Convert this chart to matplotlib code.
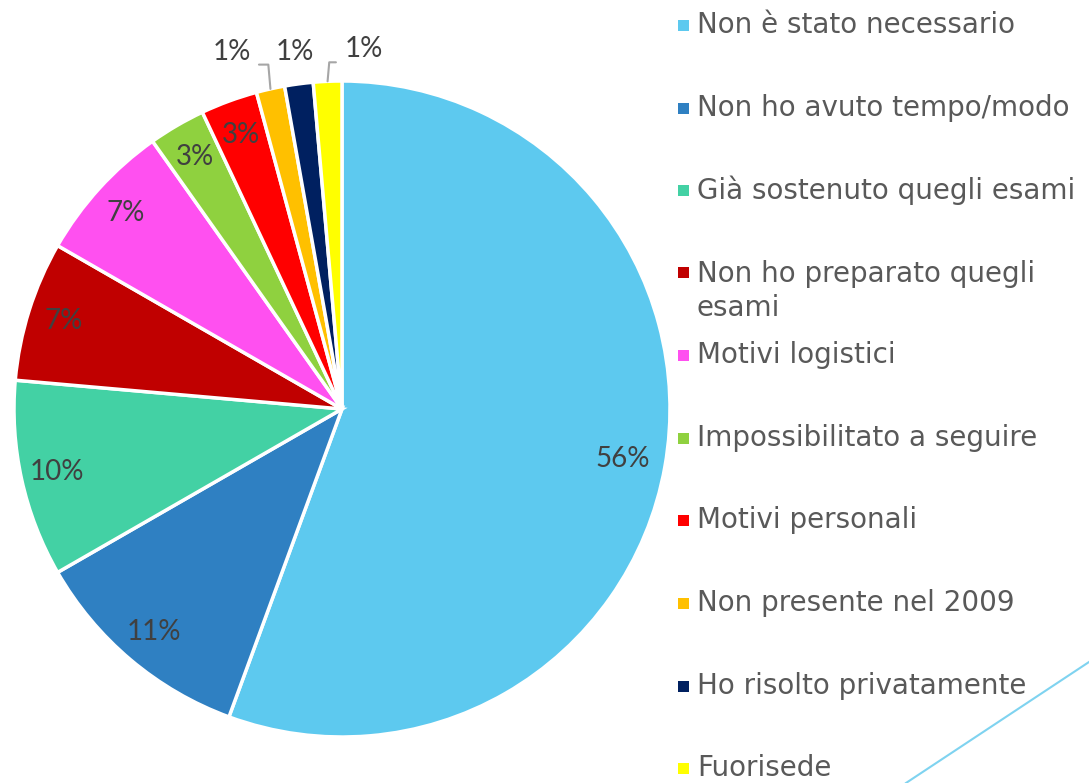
import matplotlib.pyplot as plt
import numpy as np

labels = [
    "Non è stato necessario",
    "Non ho avuto tempo/modo",
    "Già sostenuto quegli esami",
    "Non ho preparato quegli\nesami",
    "Motivi logistici",
    "Impossibilitato a seguire",
    "Motivi personali",
    "Non presente nel 2009",
    "Ho risolto privatamente",
    "Fuorisede",
]
values = [55.6, 11.1, 9.7, 6.9, 6.9, 2.8, 2.8, 1.4, 1.4, 1.4]
colors = ["#5dc9ef", "#2f80c2", "#43d1a4", "#c00000", "#ff50f0",
          "#8fd13f", "#ff0000", "#ffc000", "#002060", "#ffff00"]

W, H = 1089, 783
fig = plt.figure(figsize=(W / 100, H / 100), dpi=100)

# pie axes: centre (342, 409) px, radius ~328 px
R = 330
ax = fig.add_axes([(342 - R) / W, (H - 409 - R) / H, 2 * R / W, 2 * R / H])
ax.axis("off")

radius = 328 / R
wedges, _ = ax.pie(values, colors=colors, startangle=90, counterclock=False,
                   radius=radius,
                   wedgeprops=dict(edgecolor="white", linewidth=2.5))
ax.set_xlim(-1, 1)
ax.set_ylim(-1, 1)
ax.set_aspect("equal")

label_font = dict(family="Lato", fontsize=20, color="#404040")
for w, v in zip(wedges, values):
    if v < 2:
        continue
    ang = np.deg2rad((w.theta1 + w.theta2) / 2)
    r = 0.87 * radius if v > 50 else 0.89 * radius
    ax.text(r * np.cos(ang), r * np.sin(ang), f"{v:.0f}%",
            ha="center", va="center", **label_font)

# small slices: labels above with leader lines
small = [(7, (-0.335, 1.083), (1, 0), "angle,angleA=0,angleB=95"),
         (8, (-0.143, 1.083), None, None),
         (9, (0.065, 1.09), (0, 0), "angle,angleA=180,angleB=85")]
for i, pos, rel, cs in small:
    w = wedges[i]
    ang = np.deg2rad((w.theta1 + w.theta2) / 2)
    tip = (radius * np.cos(ang), radius * np.sin(ang))
    if cs is None:
        ax.text(pos[0], pos[1], f"{values[i]:.0f}%", ha="center", va="center",
                **label_font)
    else:
        ax.annotate(f"{values[i]:.0f}%", xy=tip, xytext=pos,
                    ha="center", va="center", annotation_clip=False,
                    arrowprops=dict(arrowstyle="-", color="#a6a6a6", lw=1.5,
                                    connectionstyle=cs, relpos=rel,
                                    shrinkA=4, shrinkB=0),
                    **label_font)

# legend drawn by hand to match the spacing of the original
legend_y = [25, 108, 190, 272, 355, 438, 520, 603, 686, 768]
for lab, col, y in zip(labels, colors, legend_y):
    fig.patches.append(plt.Rectangle((678 / W, (H - y - 6) / H), 11 / W, 11 / H,
                                     transform=fig.transFigure, facecolor=col,
                                     edgecolor="none"))
    if "\n" in lab:
        fig.text(697 / W, (H - y + 12) / H, lab, ha="left", va="top",
                 fontsize=20, color="#595959", family="DejaVu Sans",
                 linespacing=1.27)
    else:
        fig.text(697 / W, (H - y) / H, lab, ha="left", va="center",
                 fontsize=20, color="#595959", family="DejaVu Sans")

# decorative line bottom right
fig.add_artist(plt.Line2D([906 / W, 1.0], [0.0, 1 - 662 / H],
                          transform=fig.transFigure, color="#7fd3f0", lw=1.5))

fig.savefig("out.png", dpi=100)
